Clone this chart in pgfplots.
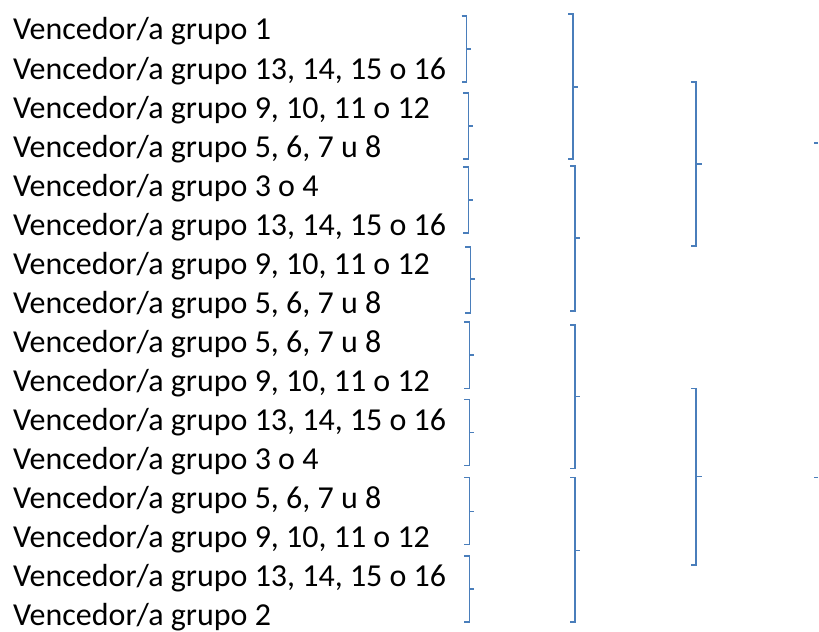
\documentclass[border=0pt]{standalone}
\usepackage{pgfplots}
\pgfplotsset{compat=1.18}
\usepackage{fontspec}
\setmainfont{Carlito}
\definecolor{brk}{RGB}{74,126,187}
\begin{document}
\begin{tikzpicture}
\begin{axis}[
  at={(0,0)}, anchor=south west,
  width=819bp, height=630bp, scale only axis,
  xmin=0, xmax=819, ymin=0, ymax=630, y dir=reverse,
  hide axis, clip=false,
  brkline/.style={brk, line width=1.8bp, mark=none, line join=miter, solid}
]
% first round brackets: serif, vertical, serif, plus tick
\addplot[brkline] coordinates {(462,16) (467,16) (467,82) (462,82)};
\addplot[brkline] coordinates {(467,49) (472,49)};
\addplot[brkline] coordinates {(464,93) (469,93) (469,159) (464,159)};
\addplot[brkline] coordinates {(469,126) (474,126)};
\addplot[brkline] coordinates {(464,167) (469,167) (469,233) (464,233)};
\addplot[brkline] coordinates {(469,200) (474,200)};
\addplot[brkline] coordinates {(466,247) (471,247) (471,313) (466,313)};
\addplot[brkline] coordinates {(471,279) (476,279)};
\addplot[brkline] coordinates {(465,322) (470,322) (470,389) (465,389)};
\addplot[brkline] coordinates {(470,355) (475,355)};
\addplot[brkline] coordinates {(465,400) (470,400) (470,466) (465,466)};
\addplot[brkline] coordinates {(470,433) (475,433)};
\addplot[brkline] coordinates {(465,478) (470,478) (470,545) (465,545)};
\addplot[brkline] coordinates {(470,512) (475,512)};
\addplot[brkline] coordinates {(465,557) (470,557) (470,623) (465,623)};
\addplot[brkline] coordinates {(470,590) (475,590)};
% second round
\addplot[brkline] coordinates {(569,14) (574,14) (574,159) (569,159)};
\addplot[brkline] coordinates {(574,87) (579,87)};
\addplot[brkline] coordinates {(571,166) (576,166) (576,311) (571,311)};
\addplot[brkline] coordinates {(576,238) (581,238)};
\addplot[brkline] coordinates {(571,325) (576,325) (576,469) (571,469)};
\addplot[brkline] coordinates {(576,397) (581,397)};
\addplot[brkline] coordinates {(571,478) (576,478) (576,623) (571,623)};
\addplot[brkline] coordinates {(576,551) (581,551)};
% third round
\addplot[brkline] coordinates {(692,82) (697,82) (697,246) (692,246)};
\addplot[brkline] coordinates {(697,164) (703,164)};
\addplot[brkline] coordinates {(692,389) (697,389) (697,566) (692,566)};
\addplot[brkline] coordinates {(697,477) (703,477)};
% final stubs
\addplot[brkline] coordinates {(815,143) (819,143)};
\addplot[brkline] coordinates {(815,478) (819,478)};
% labels
\begin{scope}[every node/.style={anchor=base west, inner sep=0pt, font=\fontsize{32bp}{38bp}\selectfont}]
\node at (axis cs:13,40.0) {Vencedor/a grupo 1};
\node at (axis cs:13,79.1) {Vencedor/a grupo 13, 14, 15 o 16};
\node at (axis cs:13,118.2) {Vencedor/a grupo 9, 10, 11 o 12};
\node at (axis cs:13,157.3) {Vencedor/a grupo 5, 6, 7 u 8};
\node at (axis cs:13,196.4) {Vencedor/a grupo 3 o 4};
\node at (axis cs:13,235.5) {Vencedor/a grupo 13, 14, 15 o 16};
\node at (axis cs:13,274.6) {Vencedor/a grupo 9, 10, 11 o 12};
\node at (axis cs:13,313.7) {Vencedor/a grupo 5, 6, 7 u 8};
\node at (axis cs:13,352.8) {Vencedor/a grupo 5, 6, 7 u 8};
\node at (axis cs:13,391.9) {Vencedor/a grupo 9, 10, 11 o 12};
\node at (axis cs:13,431.0) {Vencedor/a grupo 13, 14, 15 o 16};
\node at (axis cs:13,470.1) {Vencedor/a grupo 3 o 4};
\node at (axis cs:13,509.2) {Vencedor/a grupo 5, 6, 7 u 8};
\node at (axis cs:13,548.3) {Vencedor/a grupo 9, 10, 11 o 12};
\node at (axis cs:13,587.4) {Vencedor/a grupo 13, 14, 15 o 16};
\node at (axis cs:13,626.5) {Vencedor/a grupo 2};
\end{scope}
\end{axis}
\path[use as bounding box] (0,0) rectangle (819bp,630bp);
\end{tikzpicture}
\end{document}
